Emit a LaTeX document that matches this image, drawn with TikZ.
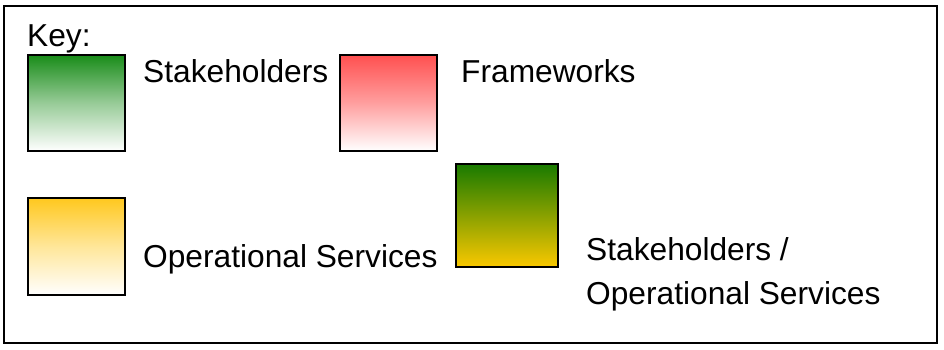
\documentclass[tikz,border=0pt]{standalone}
\usepackage{fontspec}
\setmainfont{Liberation Sans}
\definecolor{kgreen}{RGB}{25,140,25}
\definecolor{kred}{RGB}{255,80,80}
\definecolor{kyellow}{RGB}{255,200,30}
\definecolor{cgreen}{RGB}{25,122,0}
\definecolor{cyellow}{RGB}{250,200,0}
\begin{document}
\begin{tikzpicture}[x=1pt,y=-1pt,
  keybox/.style={draw=black,line width=1.5pt},
  lbl/.style={anchor=base west,inner sep=0pt,font=\fontsize{31.7}{44}\selectfont}]
\useasboundingbox (0,0) rectangle (944,350);
\draw[line width=2pt] (4,6) rectangle (937,343);
\node[lbl] (key) at (27,47) {Key:};
\draw[keybox,top color=kgreen,bottom color=white,middle color=kgreen!45] (28,55) rectangle (125,151);
\node[lbl] (sh) at (143,83) {Stakeholders};
\draw[keybox,top color=kred,bottom color=white,middle color=kred!55] (340,55) rectangle (437,151);
\node[lbl] (fw) at (461,83) {Frameworks};
\draw[keybox,top color=kyellow,bottom color=white,middle color=kyellow!45] (28,198) rectangle (125,295);
\node[lbl] (os) at (143,267) {Operational Services};
\draw[draw=black,line width=2.5pt,top color=cgreen,bottom color=cyellow] (456,164) rectangle (558,267);
\node[lbl] (sos1) at (586,260) {Stakeholders /};
\node[lbl] (sos2) at (586,304) {Operational Services};
\end{tikzpicture}
\end{document}
